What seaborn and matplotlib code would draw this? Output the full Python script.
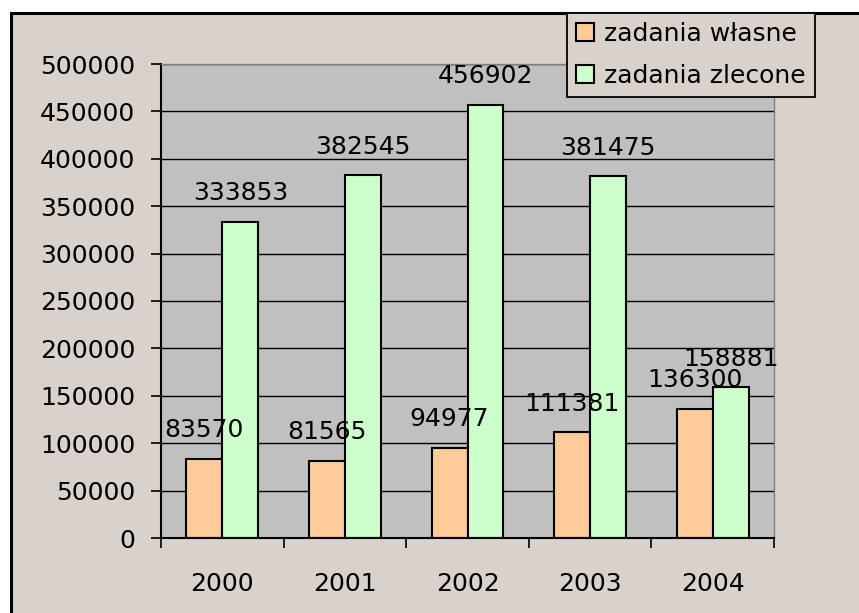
import matplotlib
matplotlib.use("Agg")
import matplotlib.pyplot as plt
import numpy as np
import pandas as pd
import seaborn as sns
from matplotlib.patches import Rectangle

years = ["2000", "2001", "2002", "2003", "2004"]
zadania_wlasne = [83570, 81565, 94977, 111381, 136300]
zadania_zlecone = [333853, 382545, 456902, 381475, 158881]
series_names = ["zadania własne", "zadania zlecone"]
yticks = list(range(0, 500001, 50000))

bg = "#d9d1cc"
colors = ["#ffcc99", "#ccffcc"]

df = pd.DataFrame({
    "rok": years * 2,
    "wartosc": zadania_wlasne + zadania_zlecone,
    "seria": [series_names[0]] * len(years) + [series_names[1]] * len(years),
})

sns.set_style("white")
plt.rcParams["font.family"] = ["DejaVu Sans"]
plt.rcParams["text.color"] = "black"
plt.rcParams["xtick.color"] = "black"
plt.rcParams["ytick.color"] = "black"
plt.rcParams["axes.labelcolor"] = "black"

W, H = 859, 613
fig = plt.figure(figsize=(W / 100, H / 100), dpi=100)
fig.patch.set_facecolor("white")

# outer chart border, runs off the right/bottom edge like the original
border = Rectangle((11 / W, -0.5), 2.0, 1 - 13 / H + 0.5, transform=fig.transFigure,
                   facecolor=bg, edgecolor="black", linewidth=2.2, zorder=-1)
fig.add_artist(border)

ax = fig.add_axes([161 / W, 75 / H, (774 - 161) / W, (538 - 64) / H])
ax.set_facecolor("#c0c0c0")

sns.barplot(data=df, x="rok", y="wartosc", hue="seria", palette=colors,
            edgecolor="black", linewidth=1.5, width=0.587, gap=0,
            saturation=1, ax=ax)

for c in ax.containers:
    ax.bar_label(c, fmt="{:.0f}", padding=12, fontsize=18, color="black", clip_on=False)

ax.set_ylim(0, 500000)
ax.set_xlim(-0.5, 4.5)
ax.set_yticks(yticks)
ax.set_yticklabels([str(v) for v in yticks])
ax.yaxis.grid(True, color="black", linewidth=1.0)
ax.set_axisbelow(True)
ax.set_xlabel("")
ax.set_ylabel("")

ax.tick_params(axis="y", which="major", direction="out", length=7.2, width=1.2,
               pad=11.5, labelsize=18, left=True, color="black", labelcolor="black")
ax.tick_params(axis="x", which="major", length=0, pad=24.5, labelsize=18,
               labelcolor="black")
ax.set_xticks(np.arange(-0.5, 5, 1), minor=True)
ax.tick_params(axis="x", which="minor", direction="out", length=7.2, width=1.2,
               bottom=True, color="black")

for s in ["left", "bottom"]:
    ax.spines[s].set_color("black")
    ax.spines[s].set_linewidth(1.5)
for s in ["top", "right"]:
    ax.spines[s].set_color("#808080")
    ax.spines[s].set_linewidth(1.0)

leg = ax.legend(loc="upper left", bbox_to_anchor=(567 / W, 1 - 13 / H),
                bbox_transform=fig.transFigure, borderaxespad=0, frameon=True,
                fancybox=False, edgecolor="black", facecolor=bg, framealpha=1,
                fontsize=18, handlelength=0.72, handleheight=0.72,
                handletextpad=0.4, labelspacing=0.72, borderpad=0.36)
leg.get_frame().set_linewidth(1.3)
for t in leg.get_texts():
    t.set_color("black")
leg.set_zorder(10)

fig.savefig("out.png", dpi=100, facecolor=fig.get_facecolor())
